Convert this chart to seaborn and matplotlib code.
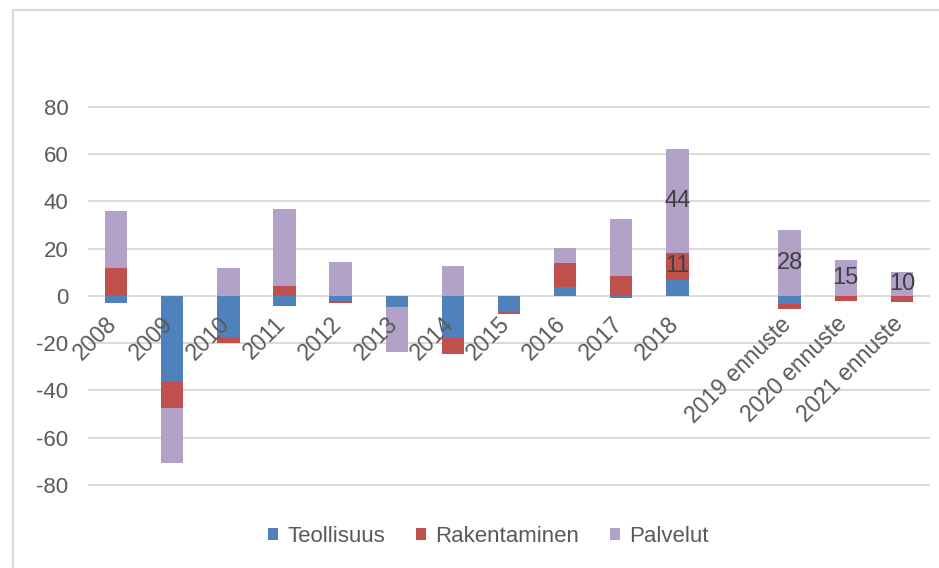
import numpy as np
import pandas as pd
import matplotlib.pyplot as plt
from matplotlib.lines import Line2D
import seaborn as sns

# data
years = ["2008", "2009", "2010", "2011", "2012", "2013", "2014", "2015",
         "2016", "2017", "2018", "", "2019 ennuste", "2020 ennuste", "2021 ennuste"]
teollisuus = [-3.0, -36.6, -17.5, -4.1, -2.1, -4.8, -17.9, -6.9, 3.9, -1.0, 6.8, 0, -3.5, 0, 0]
rakentaminen = [11.7, -11.0, -2.4, 4.2, -1.0, 0, -6.7, -0.8, 9.9, 8.6, 11.4, 0, -2.0, -2.0, -2.5]
palvelut = [24.4, -23.2, 11.7, 32.4, 14.3, -19.0, 12.8, 0, 6.5, 24.0, 43.8, 0, 28.0, 15.4, 10.3]
rak_labels = [""] * 10 + ["11", "", "", "", ""]
pal_labels = [""] * 10 + ["44", "", "28", "15", "10"]

series = ["Teollisuus", "Rakentaminen", "Palvelut"]
colors = ["#4F81BD", "#C0504D", "#B2A2C7"]

sns.set_style("white")
plt.rcParams["font.family"] = ["Liberation Sans", "DejaVu Sans"]
plt.rcParams["axes.unicode_minus"] = False

fig = plt.figure(figsize=(9.39, 5.68), dpi=100)
ax = fig.add_axes([88 / 939, 0.1046, 842 / 939, 0.7487])

# stack positives upward and negatives downward, like Excel does
pos = np.zeros(len(years))
neg = np.zeros(len(years))
for name, vals, col in zip(series, [teollisuus, rakentaminen, palvelut], colors):
    vals = np.array(vals)
    bottom = np.where(vals >= 0, pos, neg)
    df = pd.DataFrame({"year": years, "value": vals})
    sns.barplot(data=df, x="year", y="value", order=years, color=col,
                bottom=bottom, width=0.4, label=name, ax=ax,
                edgecolor="none", linewidth=0, saturation=1, zorder=2)
    pos = pos + np.clip(vals, 0, None)
    neg = neg + np.clip(vals, None, 0)

if ax.legend_ is not None:
    ax.legend_.remove()

ax.bar_label(ax.containers[1], labels=rak_labels, label_type="center",
             fontsize=17, color="#404040", zorder=4)
ax.bar_label(ax.containers[2], labels=pal_labels, label_type="center",
             fontsize=17, color="#404040", zorder=4)

ax.set_ylim(-90, 90)
ax.set_xlim(-0.5, len(years) - 0.5)
ax.set_yticks(np.arange(-80, 81, 20))
ax.yaxis.grid(True, color="#D9D9D9", linewidth=1.4, zorder=0)
ax.set_axisbelow(True)
ax.tick_params(axis="y", length=0, pad=14, labelsize=16, labelcolor="#595959")
ax.set_xticks([])
ax.set_xlabel("")
ax.set_ylabel("")
for s in ax.spines.values():
    s.set_visible(False)

# category labels sit just under the zero line, rotated
for i, lab in enumerate(years):
    ax.annotate(lab, xy=(i + 0.1, 0), xytext=(0, -12), textcoords="offset points",
                rotation=45, ha="right", va="top", fontsize=16.5,
                color="#595959", zorder=5)

handles, labels = ax.get_legend_handles_labels()
fig.legend(handles, labels, loc="center", bbox_to_anchor=(0.52, 0.055), ncol=3,
           frameon=False, fontsize=16, handlelength=0.45, handleheight=0.45,
           handletextpad=0.4, columnspacing=1.4, labelcolor="#595959")

# chart area border (top and left visible in the crop)
fig.add_artist(Line2D([13 / 939, 1], [1 - 10 / 568, 1 - 10 / 568], color="#D9D9D9", lw=1.5))
fig.add_artist(Line2D([13 / 939, 13 / 939], [0, 1 - 10 / 568], color="#D9D9D9", lw=1.5))

fig.savefig("out.png", dpi=100, facecolor="white")
